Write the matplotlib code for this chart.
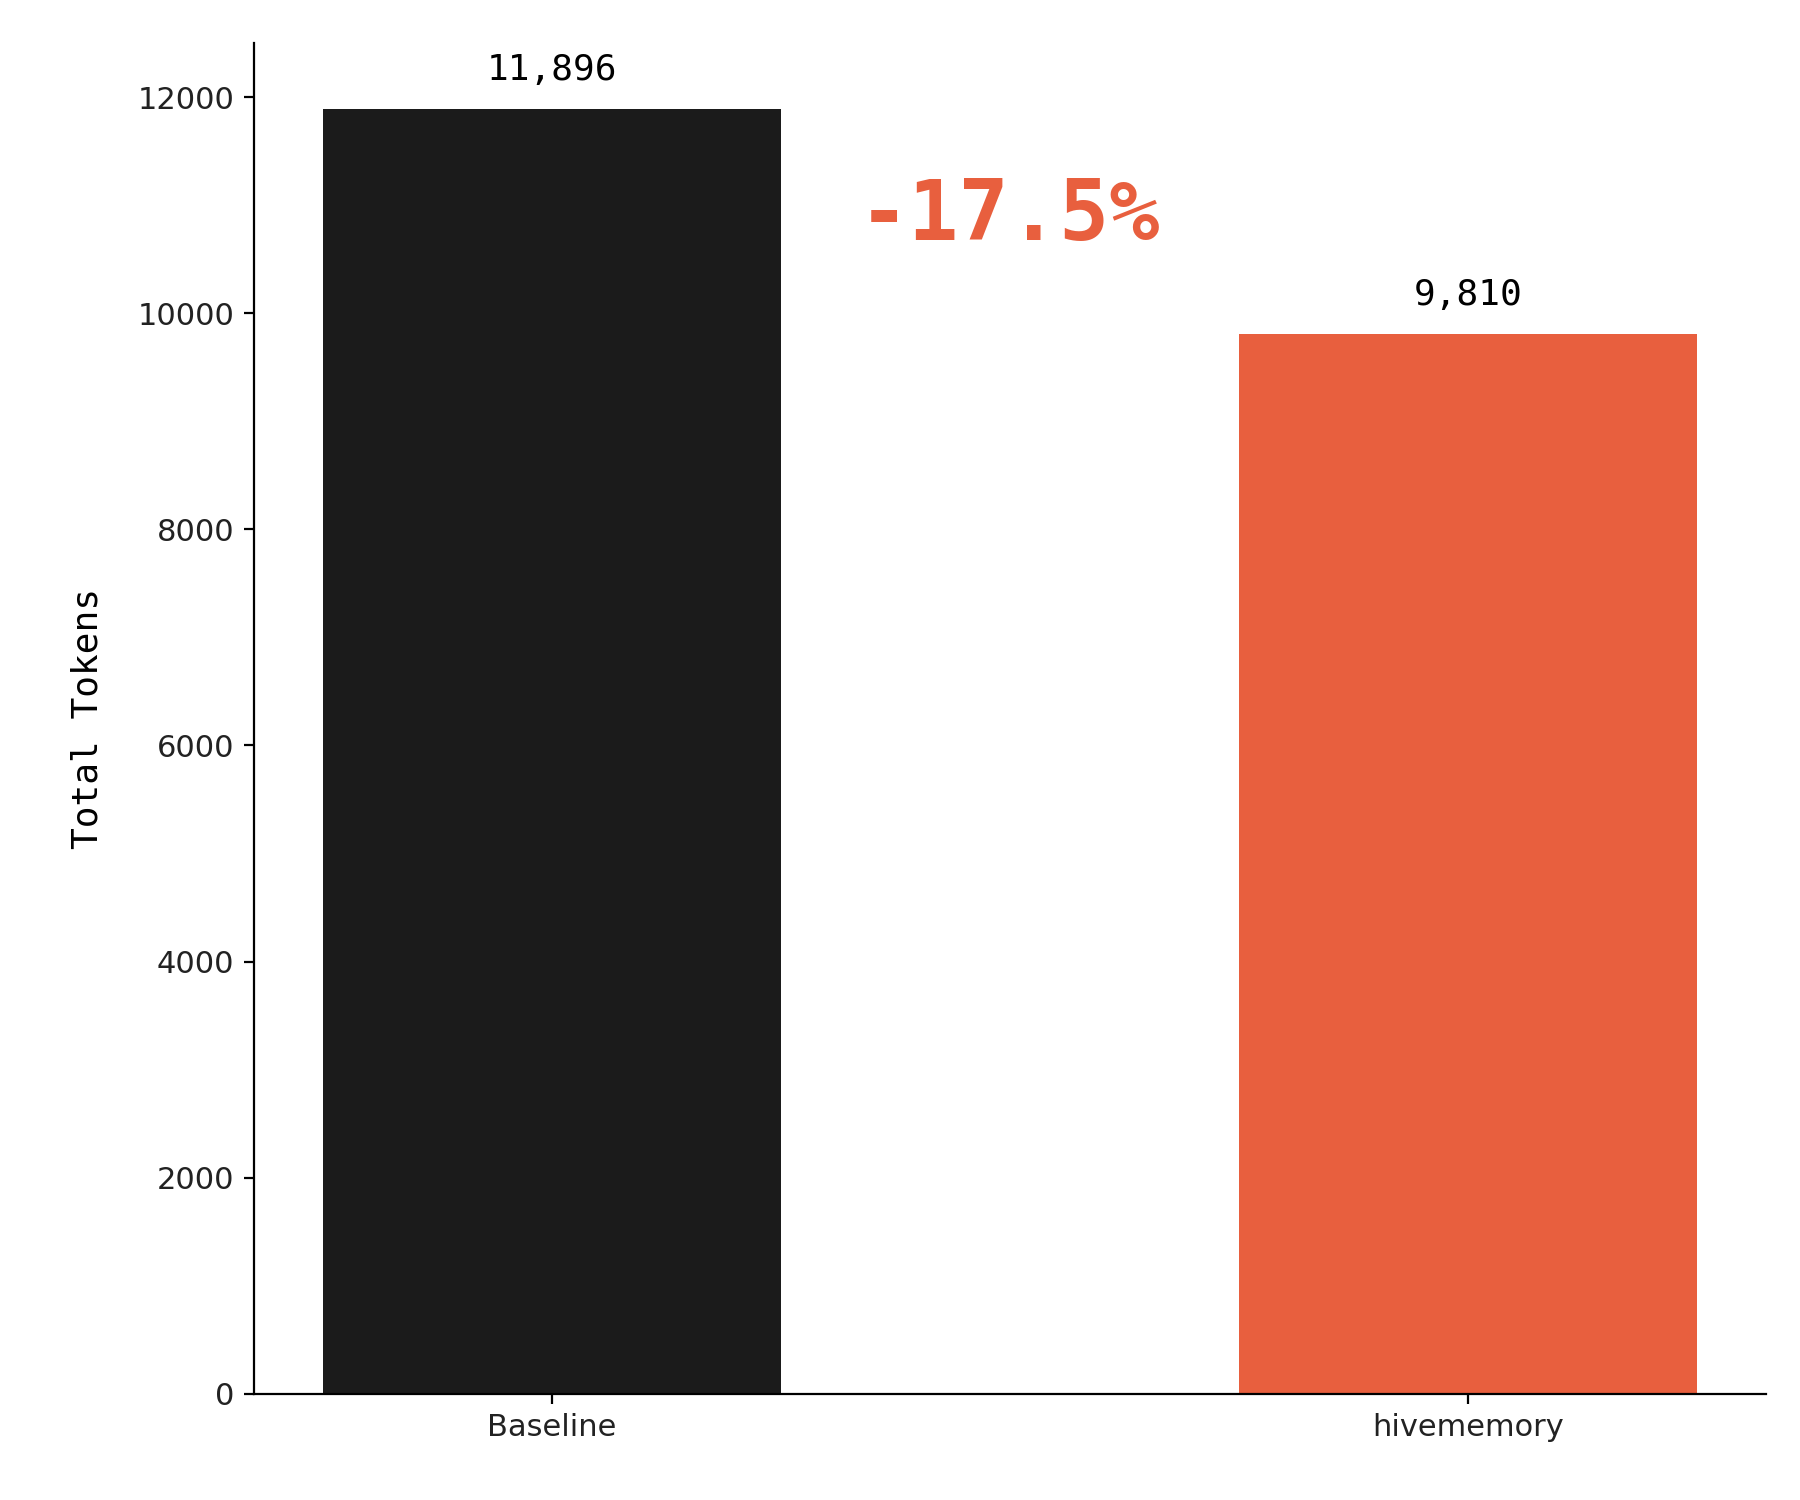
import matplotlib
matplotlib.use("Agg")
import matplotlib.pyplot as plt

categories = ["Baseline", "hivememory"]
values = [11896, 9810]
colors = ["#1b1b1b", "#e85f3e"]
value_labels = ["11,896", "9,810"]
delta_label = "-17.5%"

fig = plt.figure(figsize=(9, 7.5), dpi=200)
ax = fig.add_axes([0.141, 0.071, 0.840, 0.900])
x = list(range(len(categories)))
ax.bar(x, values, width=0.5, color=colors)
ax.set_xticks(x)
ax.set_xticklabels(categories, fontsize=11, color="#222222")
ax.tick_params(axis="y", labelsize=11, labelcolor="#222222")
ax.set_ylim(0, 12500)
ax.set_ylabel("Total Tokens", family="DejaVu Sans Mono", fontsize=13, labelpad=12)
for xi, v, lab in zip(x, values, value_labels):
    ax.annotate(lab, (xi, v), xytext=(0, 8), textcoords="offset points",
                ha="center", va="bottom", family="DejaVu Sans Mono", fontsize=13)
ax.text(0.5, 10900, delta_label, ha="center", va="center", family="DejaVu Sans Mono",
        fontweight="bold", fontsize=30, color="#e85f3e")
for s in ["top", "right"]:
    ax.spines[s].set_visible(False)
fig.savefig("out.png", dpi=200)
